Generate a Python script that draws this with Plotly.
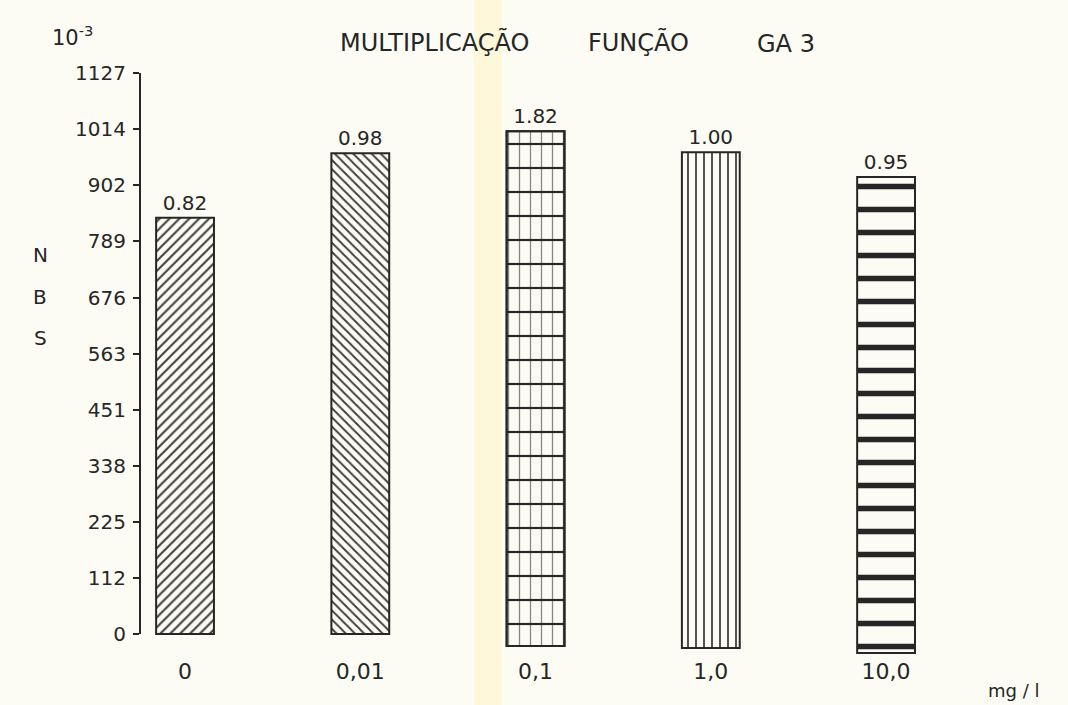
import plotly.graph_objects as go

categories = ["0", "0,01", "0,1", "1,0", "10,0"]
heights = [836, 966, 1010, 968, 918]          # bar top (x 10^-3)
bases = [0, 0, -24, -28, -38]                 # bar bottoms as drawn
value_labels = ["0.82", "0.98", "1.82", "1.00", "0.95"]
ytick_vals = [0, 112, 225, 338, 451, 563, 676, 789, 902, 1014, 1127]
ytick_text = [str(v) for v in ytick_vals]

# one or more hatch layers per bar
patterns = [
    [dict(shape="/", size=7, solidity=0.28, op=0.9)],
    [dict(shape="\\", size=6.5, solidity=0.28, op=0.9)],
    [dict(shape="-", size=24, solidity=0.09, op=1), dict(shape="|", size=11, solidity=0.12, op=0.55)],
    [dict(shape="|", size=8, solidity=0.2, op=1)],
    [dict(shape="-", size=23, solidity=0.24, op=1)],
]

BG = "#fcfcf4"
INK = "#262626"
FONT = "DejaVu Sans"

fig = go.Figure()
for i, cat in enumerate(categories):
    for j, p in enumerate(patterns[i]):
        fig.add_trace(go.Bar(
            x=[i], y=[heights[i] - bases[i]], base=[bases[i]],
            width=0.33,
            marker=dict(color="rgba(0,0,0,0)" if j else BG, line=dict(color=INK, width=2),
                        pattern=dict(shape=p["shape"], size=p["size"], solidity=p["solidity"],
                                     fgcolor=INK, fgopacity=p["op"],
                                     bgcolor="rgba(0,0,0,0)" if j else BG, fillmode="overlay")),
            text=[value_labels[i]] if j == 0 else None,
            textposition="outside", cliponaxis=False, constraintext="none",
            textfont=dict(size=20, color=INK, family=FONT),
            showlegend=False, hoverinfo="skip",
        ))

W0, W1 = 140, 1000
H0, H1 = 73 - 13, 656
def px(x):
    return (x - W0) / (W1 - W0)
def py(y):
    return (H1 - y) / (H1 - H0)

shapes = [
    dict(type="rect", xref="paper", yref="paper", x0=px(474), x1=px(502), y0=py(705), y1=py(0),
         fillcolor="rgba(255,236,150,0.28)", line=dict(width=0), layer="below"),
    dict(type="line", xref="paper", yref="y", x0=0, x1=0, y0=0, y1=1127,
         line=dict(color=INK, width=2)),
]

ann = []
def add(text, x, y, size=19):
    ann.append(dict(text=text, x=px(x), y=py(y), xref="paper", yref="paper",
                    showarrow=False, font=dict(size=size, color=INK, family=FONT),
                    xanchor="center", yanchor="middle"))

add("MULTIPLICAÇÃO", 434, 42, 24)
add("FUNÇÃO", 638, 42, 24)
add("GA 3", 786, 44, 24)
add("10<sup>-3</sup>", 72, 36, 21)
add("N", 40, 255, 20)
add("B", 40, 297, 20)
add("S", 40, 338, 20)
add("mg / l", 1014, 690, 18)

fig.update_layout(
    width=1068, height=705,
    margin=dict(l=W0, r=1068 - W1, t=H0, b=705 - H1),
    paper_bgcolor=BG, plot_bgcolor=BG,
    barmode="overlay",
    font=dict(family=FONT, color=INK),
    shapes=shapes, annotations=ann,
    xaxis=dict(range=[-0.257, 4.65], tickvals=list(range(len(categories))), ticktext=categories,
               showgrid=False, zeroline=False, showline=False, ticks="",
               ticklabelstandoff=0,
               tickfont=dict(size=22, color=INK, family=FONT)),
    yaxis=dict(range=[-(H1 - 634) / 0.49778, 1127 + 13 / 0.49778], tickvals=ytick_vals,
               ticktext=ytick_text,
               showgrid=False, zeroline=False, showline=False, ticks="outside",
               ticklen=6, tickwidth=2, tickcolor=INK, ticklabelstandoff=3,
               tickfont=dict(size=20, color=INK, family=FONT)),
)

fig.write_html(
    "out.html",
    config={"displayModeBar": False},
    post_script="document.body.style.margin='0';document.body.style.background='%s';" % BG,
)
